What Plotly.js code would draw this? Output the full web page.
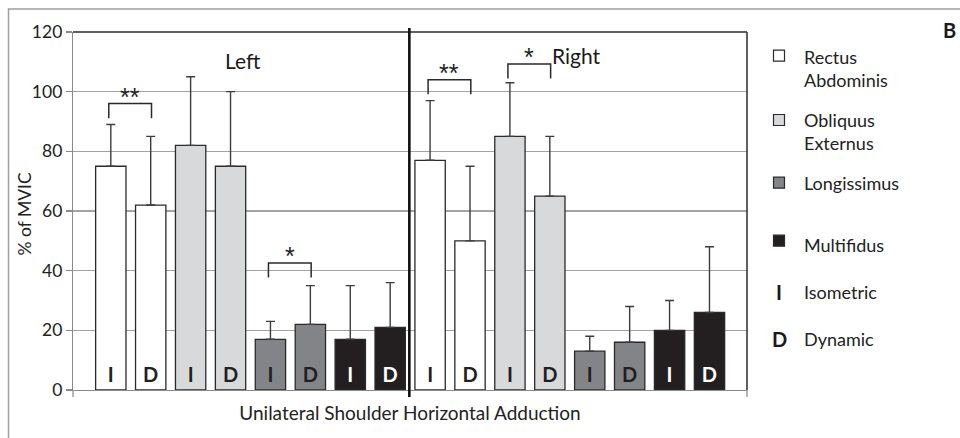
<!DOCTYPE html>
<html>
<head>
<meta charset="utf-8">
<script src="https://cdn.plot.ly/plotly-3.0.1.min.js"></script>
<style>
  html, body { margin: 0; padding: 0; background: #fff; }
  #chart { width: 960px; height: 438px; }
</style>
</head>
<body>
<div id="chart"></div>
<script>
// EMG activity (% of MVIC) during unilateral shoulder horizontal adduction
const muscles = ['Rectus Abdominis', 'Obliquus Externus', 'Longissimus', 'Multifidus'];
const legendLines = ['Rectus<br>Abdominis', 'Obliquus<br>Externus', 'Longissimus', 'Multifidus'];
const muscleColors = ['#ffffff', '#d8d9db', '#838487', '#231f20'];
const conditions = ['I', 'D'];
const conditionNames = ['Isometric', 'Dynamic'];
const sides = ['Left', 'Right'];

// bar order per side: RA I, RA D, OE I, OE D, LG I, LG D, MF I, MF D
const leftMeans  = [75, 62, 82, 75, 17, 22, 17, 21];
const leftSD     = [14, 23, 23, 25,  6, 13, 18, 15];
const rightMeans = [77, 50, 85, 65, 13, 16, 20, 26];
const rightSD    = [20, 25, 18, 20,  5, 12, 10, 22];

// significant I vs D comparisons: bar index pairs, bracket level, label
const sigFrom   = [0, 4, 8, 10];
const sigTo     = [1, 5, 9, 11];
const sigLevel  = [96, 42.6, 104, 109.3];
const sigLabels = ['**', '*', '**', '*'];

const yTicks = [0, 20, 40, 60, 80, 100, 120];

const FONT = 'Lato, "Liberation Sans", sans-serif';
const STAR_FONT = '"Liberation Sans", sans-serif';
const W = 960, H = 438;
const M = { l: 73, r: 213, t: 32, b: 48 };
const PW = W - M.l - M.r, PH = H - M.t - M.b;
const px = p => (p - M.l) / PW;          // pixel x -> paper x
const py = p => (H - M.b - p) / PH;      // pixel y -> paper y

const means = leftMeans.concat(rightMeans);
const sds = leftSD.concat(rightSD);
const xs = means.map((_, i) => i);
const muscleIdx = xs.map(i => Math.floor((i % 8) / 2));
const condIdx = xs.map(i => i % 2);
const barColors = muscleIdx.map(m => muscleColors[m]);
const labelColors = muscleIdx.map(m => (m === 3 ? '#ffffff' : '#231f20'));

const bars = {
  type: 'bar',
  x: xs,
  y: means,
  width: 0.76,
  marker: { color: barColors, line: { color: '#2a2a2a', width: 1.3 } },
  error_y: {
    type: 'data', symmetric: false, array: sds, arrayminus: sds.map(() => 0),
    color: '#3c3c3c', thickness: 1.4, width: 4.5
  },
  hoverinfo: 'skip',
  showlegend: false
};

const condLabels = {
  type: 'scatter',
  mode: 'text',
  x: xs,
  y: xs.map(() => 4.5),
  text: condIdx.map(c => conditions[c]),
  textfont: { family: FONT, size: 20, color: labelColors, weight: 'bold' },
  hoverinfo: 'skip',
  showlegend: false
};

const shapes = [];
const annotations = [];

// plot frame: dark top and right edges
shapes.push({ type: 'line', xref: 'paper', yref: 'paper', x0: 0, x1: 1, y0: 1, y1: 1,
  line: { color: '#2b2b2b', width: 1.5 } });
shapes.push({ type: 'line', xref: 'paper', yref: 'paper', x0: 1, x1: 1, y0: 0, y1: 1,
  line: { color: '#2b2b2b', width: 1.5 } });
// end ticks on the category axis
[0, 1].forEach(xp => shapes.push({ type: 'line', xref: 'paper', yref: 'paper',
  x0: xp, x1: xp, y0: 0, y1: py(397), line: { color: '#8a8a8a', width: 1.2 } }));
// outer figure frame
shapes.push({ type: 'rect', xref: 'paper', yref: 'paper',
  x0: px(8.5), x1: px(975), y0: py(455), y1: py(9),
  line: { color: '#a0a0a0', width: 1.5 }, fillcolor: 'rgba(0,0,0,0)' });
// Left / Right divider
shapes.push({ type: 'line', xref: 'x', yref: 'paper', x0: 7.48, x1: 7.48,
  y0: py(397), y1: py(28), line: { color: '#111', width: 2.6 } });

// significance brackets
sigFrom.forEach((a, k) => {
  const b = sigTo[k], lv = sigLevel[k], leg = 4.9;
  const x0 = a - 0.05, x1 = b + 0.02;
  shapes.push({ type: 'path', xref: 'x', yref: 'y',
    path: `M ${x0} ${lv - leg} L ${x0} ${lv} L ${x1} ${lv} L ${x1} ${lv - leg}`,
    line: { color: '#2a2a2a', width: 1.5 } });
  annotations.push({ xref: 'x', yref: 'y', x: (x0 + x1) / 2, y: lv, yanchor: 'bottom',
    yshift: -9, text: sigLabels[k], showarrow: false,
    font: { family: STAR_FONT, size: 25, color: '#222' } });
});

// side labels
annotations.push({ xref: 'x', yref: 'y', x: 3.31, y: 110.6, text: sides[0], showarrow: false,
  font: { family: FONT, size: 21, color: '#1a1a1a' } });
annotations.push({ xref: 'x', yref: 'y', x: 11.67, y: 112.2, text: sides[1], showarrow: false,
  font: { family: FONT, size: 21, color: '#1a1a1a' } });

// y-axis title
annotations.push({ xref: 'paper', yref: 'paper', x: px(23.5), y: py(214),
  xanchor: 'center', yanchor: 'middle', textangle: -90, text: '% of MVIC', showarrow: false,
  font: { family: FONT, size: 17.5, color: '#222' } });

// legend: muscle swatches
const swY = [55.7, 120, 182.7, 240.7];
const txY = [68.5, 131, 182.7, 245];
muscles.forEach((m, i) => {
  const s = 5.5, cx = 779;
  shapes.push({ type: 'rect', xref: 'paper', yref: 'paper',
    x0: px(cx - s), x1: px(cx + s), y0: py(swY[i] + s), y1: py(swY[i] - s),
    fillcolor: muscleColors[i], line: { color: '#2a2a2a', width: 1.2 } });
  annotations.push({ xref: 'paper', yref: 'paper', x: px(802), y: py(txY[i]),
    xanchor: 'left', yanchor: 'middle', align: 'left', text: legendLines[i], showarrow: false,
    font: { family: FONT, size: 18, color: '#222' } });
});
// legend: condition letters
const condY = [291.7, 339];
conditions.forEach((c, i) => {
  annotations.push({ xref: 'paper', yref: 'paper', x: px(779), y: py(condY[i]),
    xanchor: 'center', yanchor: 'middle', text: '<b>' + c + '</b>', showarrow: false,
    font: { family: FONT, size: 20, color: '#1a1a1a' } });
  annotations.push({ xref: 'paper', yref: 'paper', x: px(802), y: py(condY[i]),
    xanchor: 'left', yanchor: 'middle', text: conditionNames[i], showarrow: false,
    font: { family: FONT, size: 18, color: '#222' } });
});
// panel letter
annotations.push({ xref: 'paper', yref: 'paper', x: px(949), y: py(30),
  xanchor: 'center', yanchor: 'middle', text: '<b>B</b>', showarrow: false,
  font: { family: FONT, size: 20, color: '#1a1a1a' } });

const layout = {
  width: W, height: H,
  margin: M,
  paper_bgcolor: '#ffffff', plot_bgcolor: '#ffffff',
  font: { family: FONT, color: '#222' },
  bargap: 0,
  xaxis: {
    range: [-0.947, 15.94],
    showticklabels: false, ticks: '', showgrid: false, zeroline: false,
    showline: true, linecolor: '#8a8a8a', linewidth: 1.2,
    title: { text: 'Unilateral Shoulder Horizontal Adduction', standoff: 16,
      font: { family: FONT, size: 19, color: '#222' } }
  },
  yaxis: {
    range: [0, 120],
    tickvals: yTicks, ticktext: yTicks.map(String),
    ticks: 'outside', ticklen: 6, tickcolor: '#8a8a8a', tickwidth: 1.2,
    tickfont: { family: FONT, size: 17.5, color: '#222' },
    showgrid: true, gridcolor: '#a3a3a3', gridwidth: 1.2,
    zeroline: false, showline: true, linecolor: '#8a8a8a', linewidth: 1.2
  },
  shapes: shapes,
  annotations: annotations,
  showlegend: false
};

Plotly.newPlot('chart', [bars, condLabels], layout, { staticPlot: true, displayModeBar: false });
</script>
</body>
</html>
